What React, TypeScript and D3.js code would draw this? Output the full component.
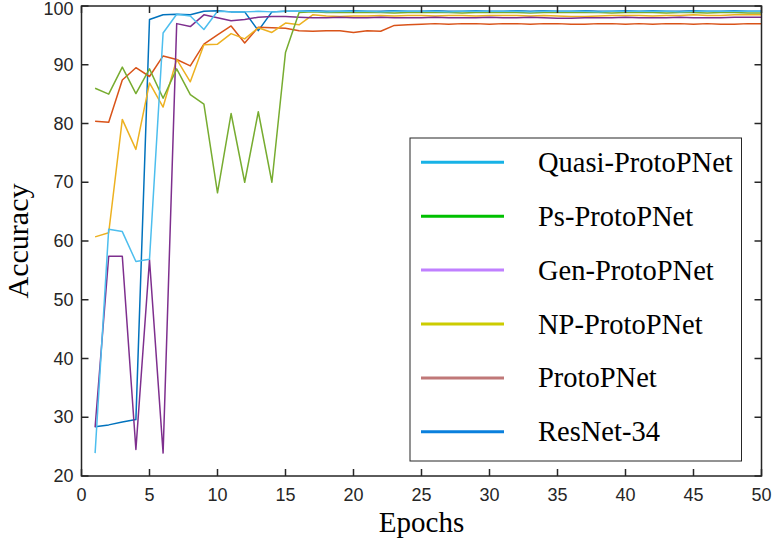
import React from "react";
import * as d3 from "d3";

const epochs: number[] = Array.from({ length: 50 }, (_, i) => i + 1);

const resnet34: number[] = [
  28.4, 28.7, 29.2, 29.6, 97.7, 98.5, 98.6, 98.5, 99.1, 99.2,
  99.0, 99.0, 95.8, 99.0, 99.1, 99.1, 99.2, 99.1, 99.1, 99.2,
  99.1, 99.1, 99.2, 99.1, 99.1, 99.2, 99.1, 99.1, 99.2, 99.1,
  99.1, 99.2, 99.1, 99.2, 99.1, 99.1, 99.2, 99.1, 99.1, 99.2,
  99.1, 99.2, 99.1, 99.1, 99.2, 99.1, 99.1, 99.2, 99.1, 99.1,
];

const protoPNet: number[] = [
  80.4, 80.2, 87.4, 89.5, 88.0, 91.5, 90.9, 89.8, 93.5, 95.1,
  96.6, 93.7, 96.4, 96.3, 96.2, 95.8, 95.7, 95.8, 95.8, 95.5,
  95.8, 95.7, 96.7, 96.8, 96.9, 97.0, 96.9, 97.0, 97.0, 96.9,
  97.0, 97.0, 96.9, 97.0, 97.0, 96.9, 96.9, 97.0, 97.0, 96.9,
  97.0, 96.9, 97.0, 97.0, 96.9, 97.0, 96.9, 96.9, 97.0, 97.0,
];

const npProtoPNet: number[] = [
  60.7, 61.4, 80.7, 75.6, 86.9, 82.8, 90.9, 87.1, 93.4, 93.5,
  95.3, 94.4, 96.3, 95.5, 97.1, 96.8, 98.5, 98.3, 98.2, 98.3,
  98.3, 98.4, 98.3, 98.4, 98.4, 98.3, 98.4, 98.4, 98.3, 98.4,
  98.4, 98.4, 98.3, 98.4, 98.3, 98.2, 98.2, 98.3, 98.4, 98.4,
  98.4, 98.3, 98.4, 98.4, 98.5, 98.4, 98.4, 98.5, 98.5, 98.5,
];

const genProtoPNet: number[] = [
  28.3, 57.4, 57.4, 24.5, 56.8, 23.9, 97.0, 96.5, 98.5, 98.0,
  97.5, 97.7, 98.1, 98.2, 98.2, 98.1, 98.0, 98.0, 98.1, 98.0,
  98.0, 98.1, 98.0, 98.0, 98.0, 98.1, 98.0, 98.0, 98.0, 98.1,
  98.0, 98.0, 98.1, 98.0, 97.9, 97.9, 98.0, 98.0, 98.0, 98.1,
  98.0, 98.0, 98.0, 98.1, 98.0, 98.0, 98.0, 98.1, 98.1, 98.1,
];

const psProtoPNet: number[] = [
  86.0, 85.0, 89.6, 85.1, 89.3, 84.3, 89.3, 84.9, 83.3, 68.2,
  81.7, 70.0, 82.0, 70.0, 92.1, 98.9, 99.0, 98.9, 98.9, 98.9,
  98.9, 98.9, 98.8, 98.9, 98.9, 98.9, 98.9, 98.8, 98.9, 98.9,
  98.9, 98.9, 98.8, 98.9, 98.9, 98.9, 98.9, 98.9, 98.8, 98.9,
  98.9, 98.9, 98.8, 98.9, 98.9, 98.8, 98.9, 98.9, 98.8, 98.8,
];

const quasiProtoPNet: number[] = [
  23.9, 62.0, 61.6, 56.5, 56.9, 95.4, 98.6, 98.3, 96.0, 99.1,
  99.0, 99.0, 99.1, 99.0, 99.1, 99.1, 99.1, 99.0, 99.1, 99.1,
  99.1, 99.0, 99.1, 99.1, 99.1, 99.1, 99.0, 99.1, 99.1, 99.1,
  99.1, 99.1, 99.0, 99.1, 99.1, 99.1, 99.1, 99.0, 99.1, 99.1,
  99.1, 99.1, 99.1, 99.0, 99.1, 99.1, 99.1, 99.1, 99.1, 99.1,
];

const xTicks: number[] = [0, 5, 10, 15, 20, 25, 30, 35, 40, 45, 50];
const yTicks: number[] = [20, 30, 40, 50, 60, 70, 80, 90, 100];

// plot order (drawn first to last)
const plotSeries = [
  { name: "ResNet-34", values: resnet34, color: "#0072BD" },
  { name: "ProtoPNet", values: protoPNet, color: "#D95319" },
  { name: "NP-ProtoPNet", values: npProtoPNet, color: "#EDB120" },
  { name: "Gen-ProtoPNet", values: genProtoPNet, color: "#7E2F8E" },
  { name: "Ps-ProtoPNet", values: psProtoPNet, color: "#77AC30" },
  { name: "Quasi-ProtoPNet", values: quasiProtoPNet, color: "#4DBEEE" },
];

const legendNames: string[] = [
  "Quasi-ProtoPNet",
  "Ps-ProtoPNet",
  "Gen-ProtoPNet",
  "NP-ProtoPNet",
  "ProtoPNet",
  "ResNet-34",
];
const legendColors: string[] = ["#17B2E6", "#00C000", "#C080FF", "#CCCC00", "#C07878", "#0A80DD"];

export default function App() {
  const W = 773;
  const H = 545;
  const left = 81.5, right = 761.5, top = 6, bottom = 476;
  const x = d3.scaleLinear().domain([0, 50]).range([left, right]);
  const y = d3.scaleLinear().domain([20, 100]).range([bottom, top]);
  const line = d3
    .line<number>()
    .x((_, i) => x(epochs[i]))
    .y((d) => y(d));

  const axisColor = "#262626";
  const tickLen = 7;
  const sans = "'Liberation Sans', Arial, sans-serif";
  const serif = "'Liberation Serif', 'Times New Roman', serif";

  const legX = 410, legY = 138, legW = 331.5, legH = 323;
  const legLineY0 = 162.3, legStep = 53.9;

  return (
    <svg
      width={W}
      height={H}
      style={{ position: "absolute", left: 0, top: 0, background: "#fff" }}
    >
      <rect x={0} y={0} width={W} height={H} fill="#fff" />
      {plotSeries.map((s) => (
        <path
          key={s.name}
          d={line(s.values) || ""}
          fill="none"
          stroke={s.color}
          strokeWidth={1.5}
          strokeLinejoin="round"
        />
      ))}
      {/* axes box */}
      <rect
        x={left}
        y={top}
        width={right - left}
        height={bottom - top}
        fill="none"
        stroke={axisColor}
        strokeWidth={1.5}
      />
      {xTicks.map((t) => (
        <g key={"xt" + t}>
          <line x1={x(t)} x2={x(t)} y1={bottom} y2={bottom - tickLen} stroke={axisColor} strokeWidth={1.5} />
          <line x1={x(t)} x2={x(t)} y1={top} y2={top + tickLen} stroke={axisColor} strokeWidth={1.5} />
          <text x={x(t)} y={501} textAnchor="middle" fontFamily={sans} fontSize={18} fill="#262626">
            {t}
          </text>
        </g>
      ))}
      {yTicks.map((t) => (
        <g key={"yt" + t}>
          <line x1={left} x2={left + tickLen} y1={y(t)} y2={y(t)} stroke={axisColor} strokeWidth={1.5} />
          <line x1={right} x2={right - tickLen} y1={y(t)} y2={y(t)} stroke={axisColor} strokeWidth={1.5} />
          <text x={73.5} y={Math.max(y(t) + 6, 15)} textAnchor="end" fontFamily={sans} fontSize={18} fill="#262626">
            {t}
          </text>
        </g>
      ))}
      <text x={(left + right) / 2} y={532} textAnchor="middle" fontFamily={serif} fontSize={29} fill="#000">
        Epochs
      </text>
      <text
        transform={`translate(28, ${(top + bottom) / 2}) rotate(-90)`}
        textAnchor="middle"
        fontFamily={serif}
        fontSize={30}
        fill="#000"
      >
        Accuracy
      </text>
      {/* legend */}
      <rect x={legX} y={legY} width={legW} height={legH} fill="#fff" stroke="#262626" strokeWidth={1} />
      {legendNames.map((n, i) => {
        const ly = legLineY0 + i * legStep;
        return (
          <g key={"lg" + n}>
            <line x1={421} x2={504} y1={ly} y2={ly} stroke={legendColors[i]} strokeWidth={3} />
            <text x={538} y={ly + 9.5} fontFamily={serif} fontSize={28.5} fill="#000">
              {n}
            </text>
          </g>
        );
      })}
    </svg>
  );
}
